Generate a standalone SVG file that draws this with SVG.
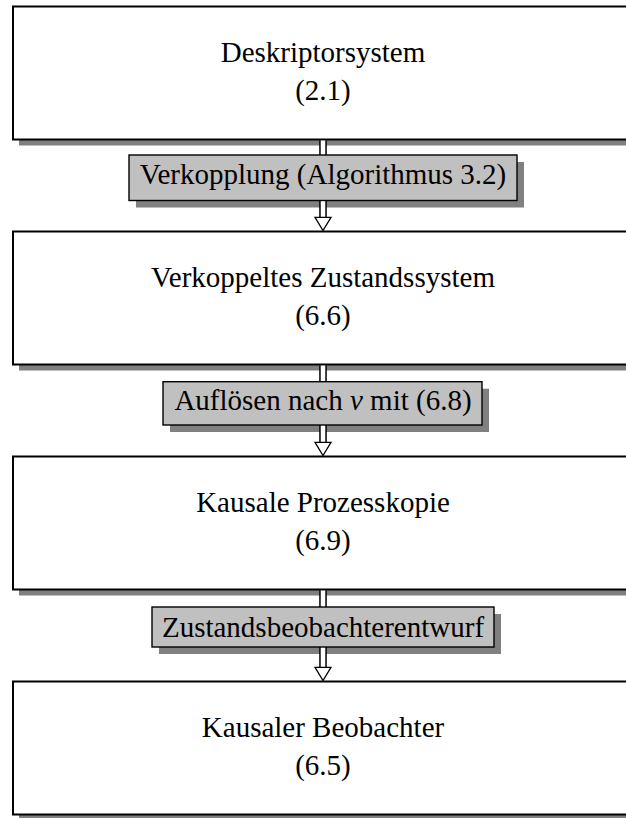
<svg xmlns="http://www.w3.org/2000/svg" width="626" height="818" viewBox="0 0 626 818">
<style>
text{font-family:"Liberation Serif","Times New Roman",serif;font-size:29px;fill:#000;text-anchor:middle}
.box{fill:#fff;stroke:#000;stroke-width:2}
.bsh{fill:#808080}
.lab{fill:#c0c0c0;stroke:#000;stroke-width:1.4}
.lsh{fill:#808080}
.so{stroke:#000;stroke-width:7.6;fill:none}
.si{stroke:#fff;stroke-width:4.6;fill:none}
.head{fill:#fff;stroke:#000;stroke-width:1.3;stroke-linejoin:miter}
</style>
<rect width="626" height="818" fill="#fff"/>
<g id="box-shadows">
<rect class="bsh" x="19" y="12.5" width="620" height="133"/>
<rect class="bsh" x="19" y="237.5" width="620" height="133"/>
<rect class="bsh" x="19" y="462.5" width="620" height="133"/>
<rect class="bsh" x="19" y="687.5" width="620" height="133"/>
</g>
<g id="n1"><rect class="box" x="13" y="6.5" width="620" height="133"/><text x="323" y="62">Deskriptorsystem</text><text x="323" y="100">(2.1)</text></g>
<g id="n2"><rect class="box" x="13" y="231.5" width="620" height="133"/><text x="323" y="287">Verkoppeltes Zustandssystem</text><text x="323" y="325">(6.6)</text></g>
<g id="n3"><rect class="box" x="13" y="456.5" width="620" height="133"/><text x="323" y="512">Kausale Prozesskopie</text><text x="323" y="550">(6.9)</text></g>
<g id="n4"><rect class="box" x="13" y="681.5" width="620" height="133"/><text x="323" y="737">Kausaler Beobachter</text><text x="323" y="775">(6.5)</text></g>
<g id="label-shadows">
<rect class="lsh" x="136" y="162" width="388" height="45.5"/>
<rect class="lsh" x="170" y="388.7" width="319" height="43.3"/>
<rect class="lsh" x="159" y="614" width="342" height="40"/>
</g>
<g id="connectors">
<line class="so" x1="323" y1="140.5" x2="323" y2="217.5"/><line class="si" x1="323" y1="140.5" x2="323" y2="218"/>
<polygon class="head" points="315,217.3 331,217.3 323,230.5"/>
<line class="so" x1="323" y1="365.5" x2="323" y2="442.5"/><line class="si" x1="323" y1="365.5" x2="323" y2="443"/>
<polygon class="head" points="315,442.3 331,442.3 323,455.5"/>
<line class="so" x1="323" y1="590.5" x2="323" y2="667.5"/><line class="si" x1="323" y1="590.5" x2="323" y2="668"/>
<polygon class="head" points="315,667.3 331,667.3 323,680.5"/>
</g>
<g id="l1"><rect class="lab" x="129" y="155" width="388" height="45.5"/><text x="323" y="184">Verkopplung (Algorithmus 3.2)</text></g>
<g id="l2"><rect class="lab" x="163" y="381.7" width="319" height="43.3"/><text x="323" y="410">Auflösen nach <tspan font-style="italic">v</tspan> mit (6.8)</text></g>
<g id="l3"><rect class="lab" x="152" y="607" width="342" height="40"/><text x="323" y="636.5">Zustandsbeobachterentwurf</text></g>
</svg>
